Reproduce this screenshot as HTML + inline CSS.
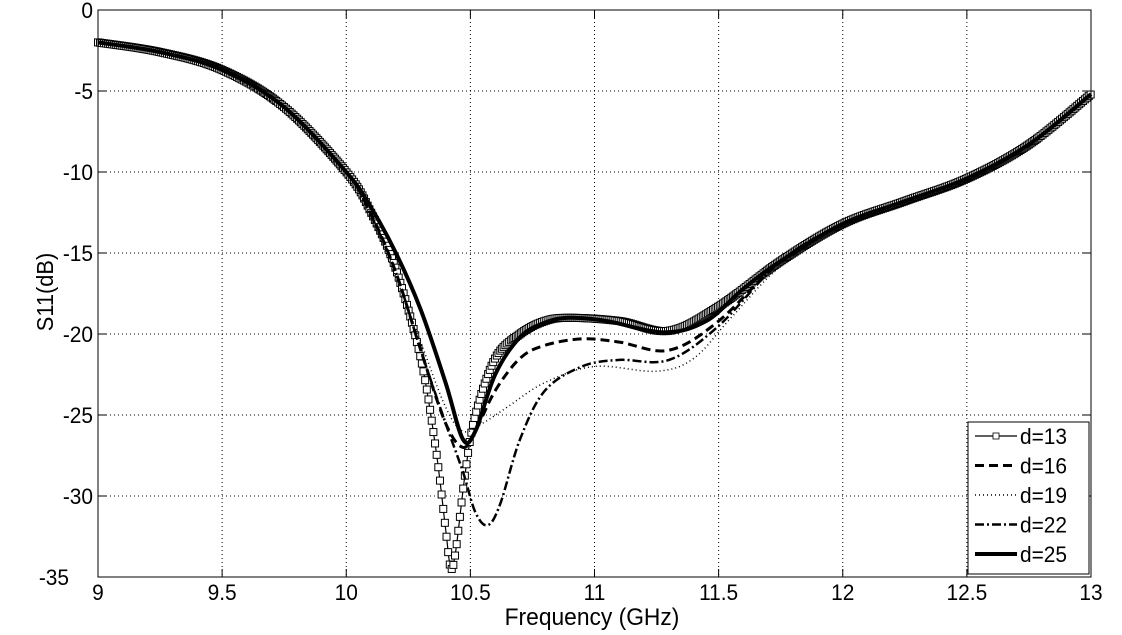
<!DOCTYPE html>
<html><head><meta charset="utf-8"><style>
body{margin:0;background:#fff;font-family:"Liberation Sans",sans-serif}
svg text{font-family:"Liberation Sans",sans-serif;font-size:22px;fill:#000}
</style></head><body>
<svg id="chart" width="1122" height="630" viewBox="0 0 1122 630" xmlns="http://www.w3.org/2000/svg">
<rect x="0" y="0" width="1122" height="630" fill="#fff"/>
<g id="grid"></g><g id="series"></g><g id="axes"></g><g id="legend"></g>
</svg>
<script>
const xTicks=[9,9.5,10,10.5,11,11.5,12,12.5,13];
const xTickLabels=["9","9.5","10","10.5","11","11.5","12","12.5","13"];
const yTicks=[0,-5,-10,-15,-20,-25,-30,-35];
const yTickLabels=["0","-5","-10","-15","-20","-25","-30","-35"];
const seriesNames=["d=13","d=16","d=19","d=22","d=25"];
const f13=[9,9.25,9.5,9.75,10,10.1,10.2,10.3,10.36,10.4,10.42,10.44,10.48,10.52,10.6,10.7,10.8,10.9,11.1,11.3,11.5,11.75,12,12.25,12.5,12.75,13];
const v13=[-2,-2.6,-3.7,-6,-10,-12.5,-16,-21.5,-27,-32,-34.4,-33.5,-28.5,-25,-21.5,-20,-19.2,-19,-19.2,-19.8,-18.3,-15.5,-13.2,-11.8,-10.4,-8.3,-5.2];
const f16=[9,9.25,9.5,9.75,10,10.1,10.2,10.3,10.4,10.47,10.52,10.6,10.7,10.8,10.95,11.1,11.3,11.5,11.75,12,12.25,12.5,12.75,13];
const v16=[-2,-2.6,-3.7,-6,-10,-12.6,-16.2,-21,-25.5,-27,-26,-23.5,-21.5,-20.7,-20.3,-20.5,-21,-19.2,-15.5,-13.2,-11.8,-10.4,-8.3,-5.2];
const f19=[9,9.25,9.5,9.75,10,10.1,10.2,10.3,10.4,10.47,10.55,10.65,10.8,11,11.25,11.4,11.55,11.75,12,12.25,12.5,12.75,13];
const v19=[-2,-2.6,-3.8,-6.3,-10.3,-13,-16.5,-20.5,-24.5,-26,-25.5,-24.5,-23,-22,-22.3,-21.5,-19,-15.8,-13.3,-11.8,-10.4,-8.3,-5.2];
const f22=[9,9.25,9.5,9.75,10,10.1,10.2,10.3,10.4,10.47,10.52,10.57,10.62,10.7,10.8,10.95,11.1,11.3,11.5,11.75,12,12.25,12.5,12.75,13];
const v22=[-2,-2.6,-3.7,-6,-10,-12.7,-16.2,-21,-25.5,-28.5,-31,-31.8,-30.5,-26.5,-23.5,-22,-21.6,-21.6,-19.5,-15.5,-13.2,-11.8,-10.4,-8.3,-5.2];
const f25=[9,9.25,9.5,9.75,10,10.1,10.2,10.3,10.4,10.47,10.52,10.6,10.7,10.8,10.9,11.05,11.28,11.45,11.6,11.75,12,12.25,12.5,12.75,13];
const v25=[-2,-2.6,-3.7,-6,-10,-12.2,-15,-18.5,-23,-26.5,-26,-22.5,-20.2,-19.3,-19,-19.2,-19.9,-19.2,-17.2,-15.5,-13.2,-11.8,-10.4,-8.3,-5.2];
const X0=98,X1=1091,Y0=10,Y1=577;
const sx=f=>X0+(f-9)/4*(X1-X0);
const sy=v=>Y0+(-v)/35*(Y1-Y0);
const NS="http://www.w3.org/2000/svg";
function mk(tag,attrs,parent){const e=document.createElementNS(NS,tag);for(const k in attrs)e.setAttribute(k,attrs[k]);parent.appendChild(e);return e;}
function txt(x,y,anchor,s,parent,rot,fs){const t=mk('text',{'text-anchor':anchor,transform:'translate('+x+' '+y+')'+(rot?' rotate(-90)':'')+' scale(0.95 1)'},parent);if(fs)t.setAttribute('style','font-size:'+fs+'px');t.textContent=s;return t;}
function pathFrom(fs,vs){const p=fs.map((f,i)=>[sx(f),sy(vs[i])]);let d="M"+p[0][0]+","+p[0][1];
for(let i=0;i<p.length-1;i++){const a=p[i-1]||p[i],b=p[i],c=p[i+1],e=p[i+2]||c;
d+=" C"+(b[0]+(c[0]-a[0])/6)+","+(b[1]+(c[1]-a[1])/6)+" "+(c[0]-(e[0]-b[0])/6)+","+(c[1]-(e[1]-b[1])/6)+" "+c[0]+","+c[1];}return d;}
const grid=document.getElementById('grid'),axes=document.getElementById('axes'),series=document.getElementById('series'),legend=document.getElementById('legend');
xTicks.forEach((t,i)=>{const x=sx(t);
 if(i>0&&i<xTicks.length-1){const l=mk('line',{x1:x,y1:Y0,x2:x,y2:Y1,stroke:'#000','stroke-width':1,'stroke-dasharray':'1,3'},grid);}
 mk('line',{x1:x,y1:Y1,x2:x,y2:Y1-8,stroke:'#000'},axes);mk('line',{x1:x,y1:Y0,x2:x,y2:Y0+8,stroke:'#000'},axes);
 const tx=txt(x,600,'middle',xTickLabels[i],axes);
 });
yTicks.forEach((t,i)=>{const y=sy(t);
 if(i>0&&i<yTicks.length-1){const l=mk('line',{x1:X0,y1:y,x2:X1,y2:y,stroke:'#000','stroke-width':1,'stroke-dasharray':'1,3'},grid);}
 mk('line',{x1:X0,y1:y,x2:X0+8,y2:y,stroke:'#000'},axes);mk('line',{x1:X1,y1:y,x2:X1-8,y2:y,stroke:'#000'},axes);
 const tx=txt(i===yTicks.length-1?69:93,y+8,'end',yTickLabels[i],axes);
 });
const box=mk('rect',{x:X0,y:Y0,width:X1-X0,height:Y1-Y0,fill:'none',stroke:'#000','stroke-width':1},axes);

const xt=txt(592,625,'middle',"Frequency (GHz)",axes,false,24);

const yt=txt(53,292,'middle',"S11(dB)",axes,true,23);

const styles=[{w:1.2,dash:null},{w:3,dash:'9,5'},{w:1.5,dash:'1,3'},{w:2.5,dash:'9,3,2,3'},{w:4,dash:null}];
const data=[[f13,v13],[f16,v16],[f19,v19],[f22,v22],[f25,v25]];
data.forEach((s,i)=>{const st=styles[i];const a={d:pathFrom(s[0],s[1]),fill:'none',stroke:'#000','stroke-width':st.w};if(st.dash)a['stroke-dasharray']=st.dash;
 const p=mk('path',a,series);
 if(i===0){const L=p.getTotalLength();let nx=-1e9;for(let s=0;s<=L;s+=0.5){const q=p.getPointAtLength(s);if(Math.abs(q.x-nx)>=1.6){nx=q.x;const m=mk('rect',{x:q.x-3.5,y:q.y-3.5,width:7,height:7,fill:'#fff',stroke:'#000','stroke-width':1},series);}}}});
const lb=mk('rect',{x:968,y:422,width:121,height:152,fill:'#fff',stroke:'#000'},legend);

seriesNames.forEach((n,i)=>{const y=436+i*29.5;const st=styles[i];const a={x1:975,y1:y,x2:1017,y2:y,stroke:'#000','stroke-width':st.w};if(st.dash)a['stroke-dasharray']=st.dash;
 const g=mk('g',{},legend);
 mk('line',a,g);if(i===0)mk('rect',{x:993,y:y-3,width:6,height:6,fill:'#fff',stroke:'#000','stroke-width':0.8},g);
 txt(1020,y+8,'start',n,g);});
</script>
</body></html>
